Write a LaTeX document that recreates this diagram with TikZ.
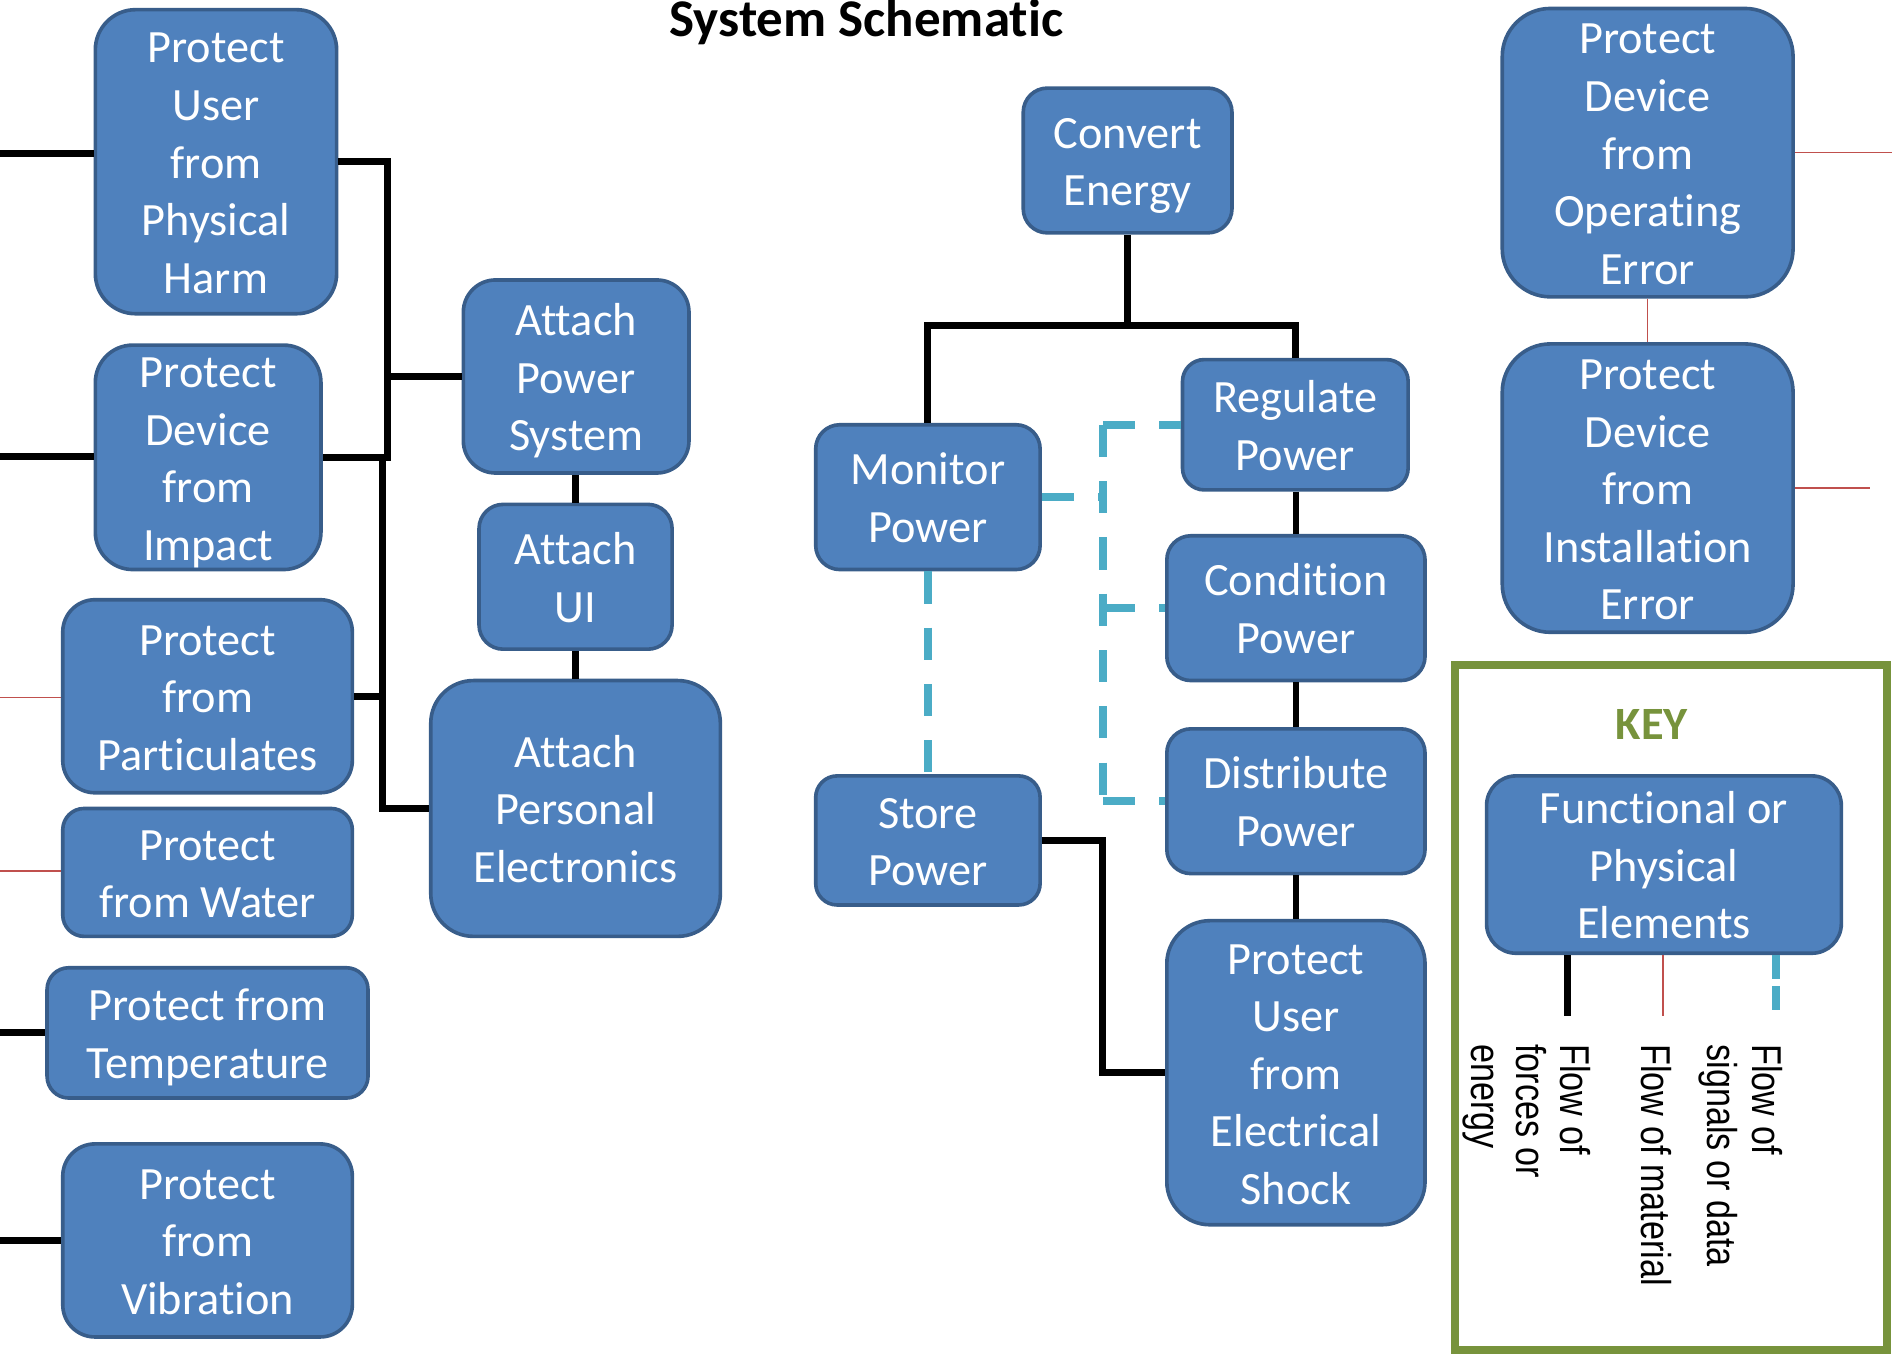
\documentclass[tikz,border=0pt]{standalone}
\usepackage{fontspec}
\setmainfont{Carlito}[Ligatures=NoCommon]
\newfontfamily\keyfont[FakeStretch=0.82]{Liberation Sans}
\definecolor{boxfill}{HTML}{4F81BD}
\definecolor{boxedge}{HTML}{385D8A}
\definecolor{sigcol}{HTML}{4BACC6}
\definecolor{matcol}{HTML}{C0504D}
\definecolor{keygreen}{HTML}{77933C}
\newcommand\bx[6]{\node[blk, minimum width={(#4-#2)*0.12mm}, minimum height={(#5-#3)*0.12mm}, rounded corners={min(#4-#2,#5-#3)*0.02mm}] (#1) at ({(#2+#4)/2},{(#3+#5)/2}) {\rule{0pt}{0.72em}#6};}
\begin{document}
\begin{tikzpicture}[x=0.12mm,y=-0.12mm,
  blk/.style={draw=boxedge, fill=boxfill, line width=0.36mm, text=white, align=center, inner sep=0pt, font=\fontsize{13.1}{16.3}\selectfont},
  conn/.style={line width=0.68mm, black, line join=miter},
  sig/.style={line width=0.8mm, sigcol, dash pattern=on 3.2mm off 2.4mm},
  mat/.style={line width=0.15mm, matcol},
  keylab/.style={rotate=-90, align=left, inner sep=0pt, anchor=north west, font=\keyfont\fontsize{11.8}{12.6}\selectfont}]
\useasboundingbox (0,0) rectangle (1568,1123);
\clip (0,0) rectangle (1568,1123);

\node[font=\fontsize{15}{18}\selectfont\bfseries, anchor=base] (title) at (718,30) {System Schematic};

% boxes
\bx{pu}{79}{8}{279}{260}{Protect\\User\\from\\Physical\\Harm}
\bx{pi}{79}{286}{266}{472}{Protect\\Device\\from\\\smash{Impact}}
\bx{pp}{52}{497}{292}{657}{Protect\\from\\Particulates}
\bx{pw}{52}{670}{292}{776}{Protect\\from Water}
\bx{pt}{39}{802}{305}{910}{Protect from\\\smash{Temperature}}
\bx{pv}{52}{948}{292}{1108}{Protect\\from\\Vibration}
\bx{aps}{384}{232}{571}{392}{Attach\\Power\\\smash{System}}
\bx{aui}{397}{418}{557}{538}{Attach\\UI}
\bx{ape}{357}{564}{597}{776}{Attach\\Personal\\Electronics}
\bx{ce}{848}{73}{1021}{193}{Convert\\\smash{Energy}}
\bx{mp}{676}{352}{862}{472}{Monitor\\Power}
\bx{rp}{980}{298}{1167}{406}{Regulate\\Power}
\bx{cp}{967}{444}{1181}{564}{Condition\\Power}
\bx{dp}{967}{604}{1181}{724}{Distribute\\Power}
\bx{sp}{676}{643}{862}{750}{Store\\Power}
\bx{pe}{967}{763}{1181}{1015}{Protect\\User\\from\\Electrical\\Shock}
\bx{po}{1245}{7}{1486}{246}{Protect\\Device\\from\\Operating\\Error}
\bx{pn}{1245}{285}{1486}{524}{Protect\\Device\\from\\Installation\\Error}

% left stubs
\coordinate (a1) at (0,127);
\coordinate (a2) at (0,378);
\coordinate (a3) at (0,578);
\coordinate (a4) at (0,722);
\coordinate (a5) at (0,856);
\coordinate (a6) at (0,1028);
\draw[conn] (a1) -- (a1 -| pu.west);
\draw[conn] (a2) -- (a2 -| pi.west);
\draw[mat] (a3) -- (a3 -| pp.west);
\draw[mat] (a4) -- (a4 -| pw.west);
\draw[conn] (a5) -- (a5 -| pt.west);
\draw[conn] (a6) -- (a6 -| pv.west);

% left tree
\coordinate (j1) at (321,312);
\coordinate (j2) at (321,379);
\coordinate (j3) at (317,379);
\draw[conn] (pu.east) -| (j2) -- (pi.east);
\draw[conn] (j1) -- (aps.west);
\draw[conn] (j3) |- (ape.west);
\draw[conn] (pp.east) -- (pp.east -| j3);
\draw[conn] (aui.north |- aps.south) -- (aui.north);
\draw[conn] (aui.south) -- (aui.south |- ape.north);

% centre tree
\coordinate (bar) at (935,270);
\draw[conn] (ce.south) -- (ce.south |- bar);
\draw[conn] (mp.north) |- (rp.north |- bar) -- (rp.north);
\draw[conn] (cp.north |- rp.south) -- (cp.north);
\draw[conn] (cp.south) -- (dp.north);
\draw[conn] (dp.south) -- (pe.north);
\coordinate (k1) at (914,889);
\draw[conn] (sp.east) -| (k1) -- (pe.west);

% signal flows
\coordinate (v1) at (914,352);
\coordinate (v2) at (914,664);
\draw[sig] (mp.south) -- (sp.north);
\draw[sig] (v1) -- (v2);
\draw[sig] (v1) -- (rp.west);
\draw[sig] (mp.east) -- (mp.east -| v1);
\draw[sig] (cp.west -| v1) -- (cp.west);
\draw[sig] (v2) -- (dp.west);

% material flows right
\coordinate (r1) at (1568,127);
\coordinate (r2) at (1550,405);
\draw[mat] (po.east) -- (po.east -| r1);
\draw[mat] (pn.east) -- (pn.east -| r2);
\draw[mat] (po.south) -- (pn.north);

% key
\draw[keygreen, line width=0.75mm] (1206,551) rectangle (1564,1119);
\node[anchor=base, text=keygreen, font=\fontsize{13.1}{16}\selectfont\bfseries] (kt) at (1369,613) {KEY};
\bx{fe}{1232}{643}{1526}{790}{Functional or\\Physical\\Elements}
\coordinate (kb1) at (1299,842);
\coordinate (kb2) at (1378,842);
\coordinate (kb3) at (1472,838);
\draw[conn] (kb1 |- fe.south) -- (kb1);
\draw[mat] (kb2 |- fe.south) -- (kb2);
\draw[sigcol, line width=0.8mm, dash pattern=on 2.4mm off 0.7mm] (kb3 |- fe.south) -- (kb3);
\node[keylab] (kl1) at (1319,865) {Flow of\\forces or\\energy};
\node[keylab] (kl2) at (1386,865) {Flow of material};
\node[keylab] (kl3) at (1478,865) {Flow of\\signals or data};
\end{tikzpicture}
\end{document}
